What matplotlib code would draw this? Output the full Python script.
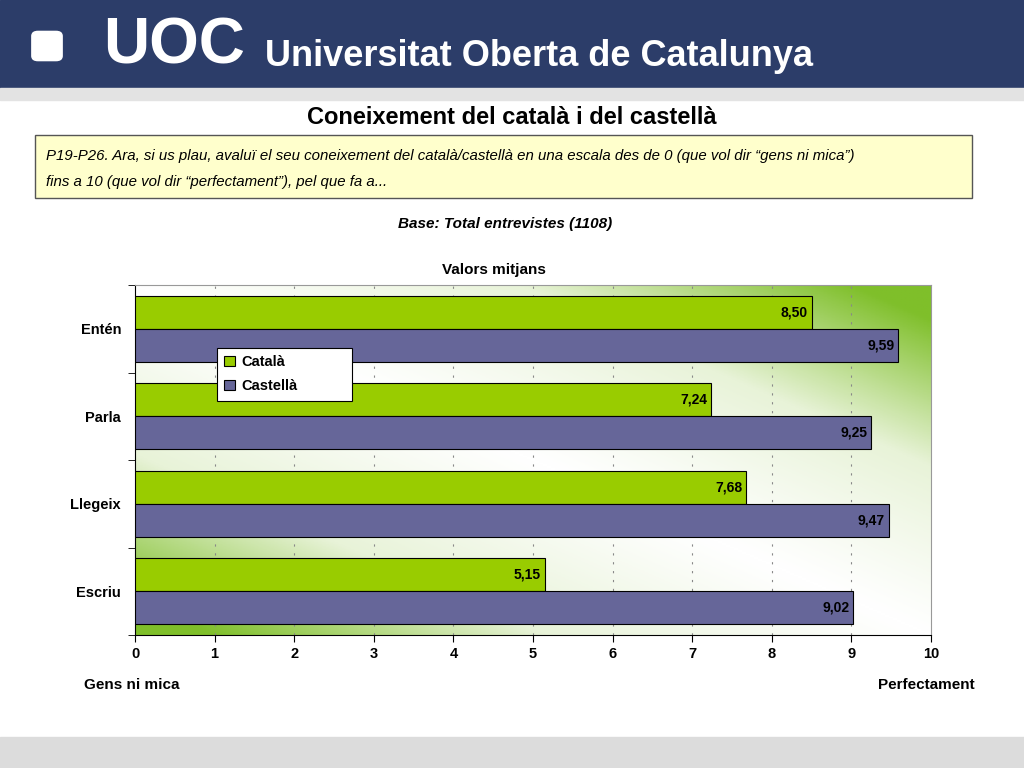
import numpy as np
import matplotlib
matplotlib.use("Agg")
import matplotlib.pyplot as plt
from matplotlib.patches import Rectangle, FancyBboxPatch
from matplotlib.colors import LinearSegmentedColormap

categories = ["Entén", "Parla", "Llegeix", "Escriu"]
catala = [8.50, 7.24, 7.68, 5.15]
castella = [9.59, 9.25, 9.47, 9.02]
xticks = list(range(0, 11))

plt.rcParams["font.family"] = "Liberation Sans"
W, H = 1024, 768
fig = plt.figure(figsize=(W/100, H/100), dpi=100)

def fx(x): return x / W
def fy(y): return 1 - y / H

fig.patches.append(Rectangle((0, fy(88)), 1, 88/H, transform=fig.transFigure, color="#2c3d69", zorder=0))
fig.patches.append(Rectangle((0, fy(100)), 1, 12/H, transform=fig.transFigure, color="#e3e3e3", zorder=0))
fig.patches.append(Rectangle((0, 0), 1, 31/H, transform=fig.transFigure, color="#dcdcdc", zorder=0))
fig.patches.append(FancyBboxPatch((fx(38), fy(56)), 18/W, 20/H, boxstyle="round,pad=0.006",
                                  transform=fig.transFigure, color="white", zorder=1))
fig.text(fx(103), fy(46), "UOC", color="white", fontsize=46, fontweight="bold", va="center", ha="left")
fig.text(fx(265), fy(56), "Universitat Oberta de Catalunya", color="white", fontsize=26,
         fontweight="bold", va="center", ha="left")

fig.text(0.5, fy(117), "Coneixement del català i del castellà", fontsize=17, fontweight="bold",
         ha="center", va="center")
fig.patches.append(Rectangle((fx(35), fy(198)), 937/W, 63/H, transform=fig.transFigure,
                             facecolor="#ffffcc", edgecolor="#555555", lw=1, zorder=1))
fig.text(fx(46), fy(156), "P19-P26. Ara, si us plau, avaluï el seu coneixement del català/castellà en una escala des de 0 (que vol dir \u201cgens ni mica\u201d)",
         fontsize=10.8, style="italic", va="center", zorder=2)
fig.text(fx(46), fy(182), "fins a 10 (que vol dir \u201cperfectament\u201d), pel que fa a...",
         fontsize=10.8, style="italic", va="center", zorder=2)
fig.text(fx(505), fy(224), "Base: Total entrevistes (1108)", fontsize=11, fontweight="bold",
         style="italic", ha="center", va="center")
fig.text(fx(494), fy(270), "Valors mitjans", fontsize=11, fontweight="bold", ha="center", va="center")
fig.text(fx(132), fy(685), "Gens ni mica", fontsize=11, fontweight="bold", ha="center", va="center")
fig.text(fx(926), fy(685), "Perfectament", fontsize=11, fontweight="bold", ha="center", va="center")

ax = fig.add_axes([fx(135), fy(635), 796/W, 350/H])
xs = np.linspace(0, 1, 200); ys = np.linspace(0, 1, 200)
X, Y = np.meshgrid(xs, ys)
G = np.clip(np.abs((X + Y) / 2 - 0.5) * 2.2, 0, 1) ** 1.1
cmap = LinearSegmentedColormap.from_list("g", ["#ffffff", "#e8f3d8", "#7fbf2a"])
ax.imshow(G, extent=[0, 10, -0.5, 3.5], origin="lower", cmap=cmap, aspect="auto", zorder=0)

n = len(categories)
pos = np.arange(n)[::-1]
h = 0.377
ax.barh(pos + h/2, catala, height=h, color="#99cc00", edgecolor="black", lw=0.8, label="Català", zorder=3)
ax.barh(pos - h/2, castella, height=h, color="#666699", edgecolor="black", lw=0.8, label="Castellà", zorder=3)
for p, a, b in zip(pos, catala, castella):
    ax.text(a - 0.05, p + h/2, f"{a:.2f}".replace(".", ","), ha="right", va="center", fontsize=10, fontweight="bold", zorder=4)
    ax.text(b - 0.05, p - h/2, f"{b:.2f}".replace(".", ","), ha="right", va="center", fontsize=10, fontweight="bold", zorder=4)

ax.set_xlim(0, 10); ax.set_ylim(-0.5, 3.5)
ax.set_xticks(xticks)
ax.set_xticklabels([str(t) for t in xticks], fontsize=10.5, fontweight="bold")
ax.set_yticks(pos)
ax.set_yticklabels(categories, fontsize=10.5, fontweight="bold")
ax.set_yticks(np.arange(-0.5, 3.6, 1), minor=True)
ax.tick_params(axis="y", which="major", length=0, pad=10)
ax.tick_params(axis="y", which="minor", length=5)
ax.tick_params(axis="x", length=5)
for x in xticks[1:-1]:
    ax.axvline(x, color="#888888", lw=0.8, ls=(0, (2, 6)), zorder=1)
for s in ["top", "right"]:
    ax.spines[s].set_color("#999999")
lx0 = (217 - 135) / 796
lw_ = 135 / 796
ly1 = (635 - 348) / 350
leg = ax.legend(loc="upper left", bbox_to_anchor=(lx0, ly1 - 0.01, lw_, 0.01), mode="expand",
                prop={"weight": "bold", "size": 10.5}, frameon=True, fancybox=False, edgecolor="black",
                handlelength=0.7, handleheight=0.7, borderpad=0.5, labelspacing=0.7,
                handletextpad=0.5, borderaxespad=0)
leg.get_frame().set_linewidth(0.8)
leg.get_frame().set_alpha(1)
leg.get_frame().set_facecolor("white")
fig.savefig("out.png", dpi=100)
